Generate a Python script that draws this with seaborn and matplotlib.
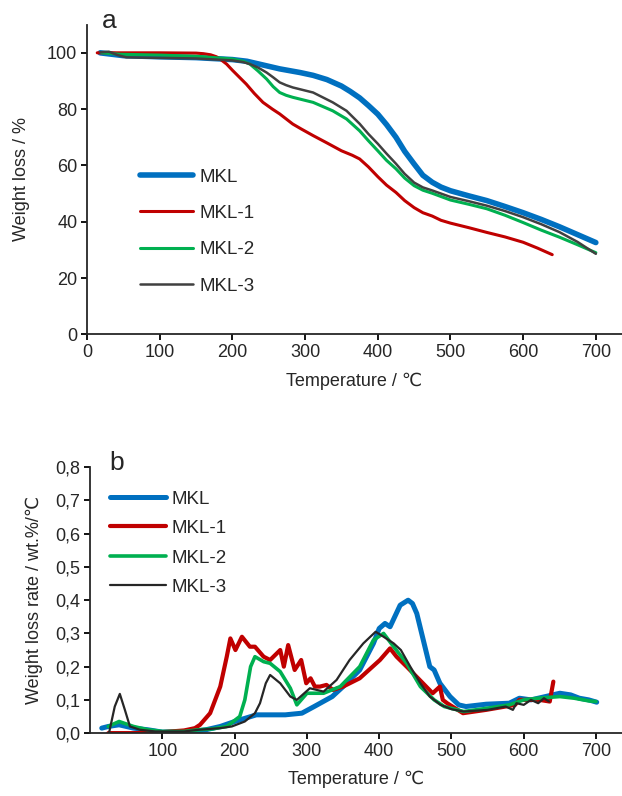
import matplotlib
matplotlib.use('Agg')
import matplotlib.pyplot as plt
import seaborn as sns
from matplotlib.ticker import FuncFormatter

sns.set_style('ticks')
plt.rcParams['font.family'] = ['Liberation Sans', 'DejaVu Sans']

labels = ['MKL', 'MKL-1', 'MKL-2', 'MKL-3']
colors_a = ['#0070C0', '#C00000', '#00B050', '#404040']
colors_b = ['#0070C0', '#C00000', '#00B050', '#262626']

# (a) TGA: temperature / weight %
tga_mkl_t = [18, 50, 100, 150, 200, 220, 240, 265, 293, 311, 330, 350, 362, 375, 387, 400, 412, 425, 437, 450, 462, 475, 487, 500, 525, 550, 575, 600, 625, 650, 675, 700]
tga_mkl_w = [100, 99.0, 98.6, 98.3, 97.6, 97.0, 95.8, 94.3, 93.0, 92.0, 90.5, 88.2, 86.3, 84.0, 81.3, 78.2, 74.5, 70.0, 65.0, 60.5, 56.5, 54.0, 52.3, 51.0, 49.2, 47.5, 45.4, 43.2, 40.8, 38.2, 35.4, 32.6]

tga_mkl1_t = [14, 50, 100, 150, 160, 170, 178, 185, 192, 200, 219, 230, 242, 255, 265, 275, 283, 295, 311, 330, 350, 365, 375, 387, 400, 412, 425, 437, 450, 462, 475, 487, 500, 525, 550, 575, 600, 620, 640]
tga_mkl1_w = [100, 100, 100, 99.9, 99.7, 99.3, 98.6, 97.4, 96.0, 93.8, 88.9, 85.6, 82.4, 80.0, 78.3, 76.3, 74.7, 72.9, 70.6, 68.0, 65.2, 63.6, 62.3, 59.5, 56.0, 53.0, 50.4, 47.5, 45.0, 43.2, 42.0, 40.5, 39.5, 37.9, 36.2, 34.6, 32.7, 30.6, 28.3]

tga_mkl2_t = [20, 45, 100, 155, 200, 215, 224, 235, 247, 256, 265, 274, 283, 311, 338, 357, 375, 387, 400, 412, 425, 437, 450, 462, 475, 500, 525, 550, 575, 600, 625, 650, 675, 700]
tga_mkl2_w = [100, 99.5, 99.2, 98.7, 97.8, 97.0, 96.0, 93.6, 90.7, 88.0, 85.9, 84.9, 84.2, 82.4, 79.4, 76.5, 72.3, 68.8, 65.2, 61.8, 58.8, 55.5, 52.8, 51.2, 50.1, 47.7, 46.2, 44.6, 42.3, 39.7, 37.0, 34.5, 31.8, 29.0]

tga_mkl3_t = [18, 30, 42, 54, 100, 150, 200, 215, 224, 235, 247, 256, 265, 274, 283, 311, 338, 357, 375, 387, 400, 412, 425, 437, 450, 462, 475, 500, 525, 550, 575, 600, 625, 650, 675, 700]
tga_mkl3_w = [100.2, 100.4, 99.2, 98.4, 98.2, 98.0, 97.3, 96.7, 96.0, 94.8, 93.0, 91.3, 89.5, 88.5, 87.7, 85.9, 82.4, 79.4, 74.8, 71.2, 67.7, 64.2, 60.6, 57.0, 53.9, 52.2, 51.1, 48.8, 47.3, 45.7, 43.8, 41.6, 39.1, 36.3, 32.8, 28.6]

# (b) DTG: temperature / rate
dtg_mkl_t = [16, 25, 40, 60, 80, 100, 140, 160, 180, 200, 215, 230, 250, 270, 293, 310, 335, 350, 373, 392, 400, 408, 415, 429, 440, 446, 452, 461, 470, 476, 484, 498, 510, 520, 548, 580, 594, 610, 630, 650, 665, 677, 690, 701]
dtg_mkl_r = [0.015, 0.02, 0.025, 0.015, 0.01, 0.003, 0.005, 0.01, 0.02, 0.035, 0.045, 0.055, 0.055, 0.055, 0.06, 0.08, 0.11, 0.14, 0.19, 0.27, 0.315, 0.33, 0.32, 0.385, 0.40, 0.39, 0.36, 0.28, 0.20, 0.19, 0.15, 0.11, 0.085, 0.08, 0.087, 0.09, 0.105, 0.10, 0.11, 0.12, 0.115, 0.105, 0.10, 0.093]

dtg_mkl1_t = [25, 60, 100, 130, 145, 152, 166, 180, 189, 194, 201, 210, 221, 228, 240, 249, 263, 268, 274, 283, 292, 299, 305, 311, 318, 327, 336, 350, 373, 401, 415, 424, 438, 456, 474, 484, 488, 494, 516, 548, 588, 594, 622, 636, 641]
dtg_mkl1_r = [0.0, 0.0, 0.003, 0.008, 0.015, 0.025, 0.06, 0.14, 0.23, 0.285, 0.25, 0.29, 0.26, 0.26, 0.23, 0.22, 0.25, 0.20, 0.265, 0.19, 0.22, 0.15, 0.165, 0.14, 0.14, 0.145, 0.13, 0.14, 0.165, 0.22, 0.255, 0.23, 0.20, 0.16, 0.12, 0.14, 0.10, 0.09, 0.06, 0.07, 0.085, 0.10, 0.10, 0.095, 0.155]

dtg_mkl2_t = [25, 40, 60, 80, 100, 130, 150, 170, 189, 207, 214, 222, 228, 240, 249, 263, 277, 286, 300, 323, 346, 373, 392, 406, 420, 438, 457, 476, 490, 517, 550, 580, 600, 620, 650, 670, 690, 700]
dtg_mkl2_r = [0.02, 0.035, 0.02, 0.01, 0.005, 0.005, 0.01, 0.013, 0.02, 0.05, 0.10, 0.20, 0.23, 0.215, 0.21, 0.185, 0.135, 0.085, 0.12, 0.12, 0.14, 0.20, 0.28, 0.30, 0.26, 0.21, 0.14, 0.10, 0.08, 0.065, 0.075, 0.085, 0.10, 0.105, 0.11, 0.105, 0.097, 0.095]

dtg_mkl3_t = [26, 34, 41, 48, 55, 69, 90, 130, 150, 180, 196, 214, 228, 235, 243, 249, 263, 277, 286, 304, 323, 341, 359, 378, 395, 406, 420, 430, 443, 457, 470, 485, 500, 517, 550, 575, 585, 590, 600, 610, 620, 628, 635]
dtg_mkl3_r = [0.0, 0.08, 0.118, 0.07, 0.02, 0.01, 0.005, 0.005, 0.01, 0.015, 0.02, 0.035, 0.06, 0.09, 0.15, 0.175, 0.15, 0.11, 0.10, 0.135, 0.125, 0.16, 0.22, 0.27, 0.305, 0.29, 0.27, 0.25, 0.20, 0.15, 0.11, 0.085, 0.072, 0.065, 0.07, 0.08, 0.07, 0.09, 0.085, 0.10, 0.09, 0.105, 0.095]

tga = [(tga_mkl_t, tga_mkl_w), (tga_mkl1_t, tga_mkl1_w), (tga_mkl2_t, tga_mkl2_w), (tga_mkl3_t, tga_mkl3_w)]
dtg = [(dtg_mkl_t, dtg_mkl_r), (dtg_mkl1_t, dtg_mkl1_r), (dtg_mkl2_t, dtg_mkl2_r), (dtg_mkl3_t, dtg_mkl3_r)]
lw_a = [4.0, 2.2, 2.2, 1.8]
lw_b = [3.6, 3.0, 2.6, 1.6]

fig = plt.figure(figsize=(6.22, 7.96), dpi=100)
ax1 = fig.add_axes([0.140, 0.580, 0.860, 0.389])
ax2 = fig.add_axes([0.145, 0.079, 0.855, 0.334])

for (t, w), lab, c, lw in zip(tga, labels, colors_a, lw_a):
    sns.lineplot(x=t, y=w, ax=ax1, color=c, lw=lw, label=lab, sort=False,
                 estimator=None, solid_capstyle='round', solid_joinstyle='round')
for (t, r), lab, c, lw in zip(dtg, labels, colors_b, lw_b):
    sns.lineplot(x=t, y=r, ax=ax2, color=c, lw=lw, label=lab, sort=False,
                 estimator=None, solid_capstyle='round', solid_joinstyle='round')

for ax in (ax1, ax2):
    sns.despine(ax=ax)
    ax.spines['left'].set_linewidth(1.3)
    ax.spines['bottom'].set_linewidth(1.3)
    ax.tick_params(labelsize=13, length=4, width=1.3, color='black', pad=3)
    ax.set_xlabel('Temperature / \u2103', fontsize=13, labelpad=8)

ax1.set_xlim(0, 736)
ax1.set_ylim(0, 110)
ax1.set_xticks(range(0, 800, 100))
ax1.set_yticks(range(0, 120, 20))
ax1.set_ylabel('Weight loss / %', fontsize=13, labelpad=12)

ax2.set_xlim(0, 736)
ax2.set_ylim(0, 0.8)
ax2.set_xticks(range(100, 800, 100))
ax2.set_yticks([i / 10 for i in range(9)])
ax2.yaxis.set_major_formatter(FuncFormatter(lambda v, p: f'{v:.1f}'.replace('.', ',')))
ax2.set_ylabel('Weight loss rate / wt.%/\u2103', fontsize=13, labelpad=9)

ax1.legend(loc='upper left', bbox_to_anchor=(0.099, 0.535), frameon=False, fontsize=13.5,
           handlelength=2.85, handletextpad=0.3, labelspacing=1.02, borderpad=0, borderaxespad=0)
ax2.legend(loc='upper left', bbox_to_anchor=(0.038, 0.913), frameon=False, fontsize=13.5,
           handlelength=2.95, handletextpad=0.3, labelspacing=0.66, borderpad=0, borderaxespad=0)

fig.text(102 / 622, 1 - 28 / 796, 'a', fontsize=19)
fig.text(109 / 622, 1 - 470 / 796, 'b', fontsize=19)

fig.savefig('out.png', dpi=100)
